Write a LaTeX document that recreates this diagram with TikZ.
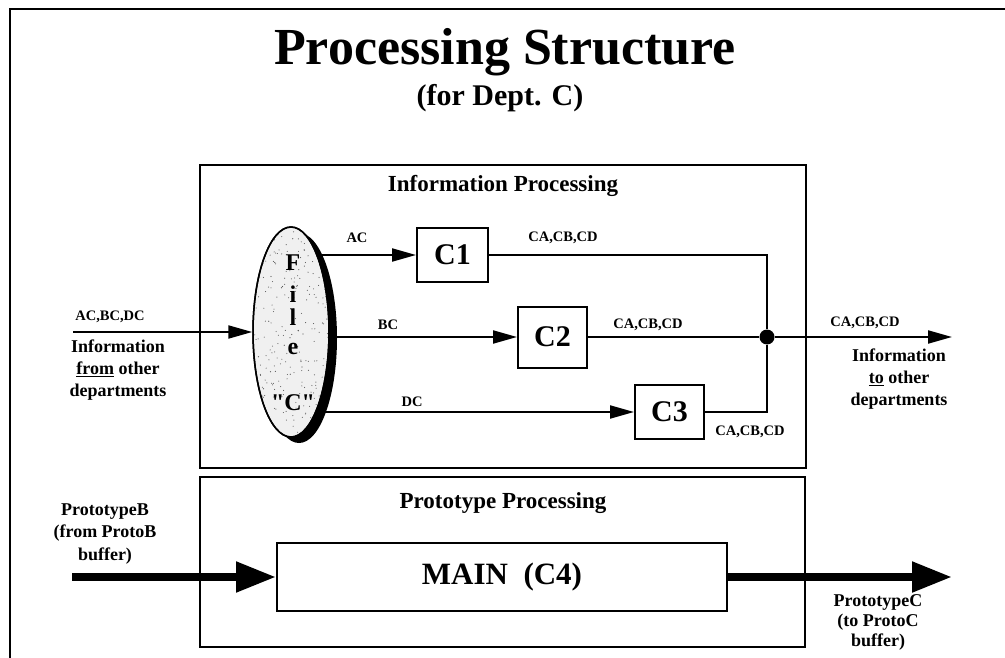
\documentclass[tikz,border=0pt]{standalone}
\usepackage{fontspec}
\setmainfont{Liberation Serif}
\newfontfamily\straightserif[Ligatures=TeXOff]{Liberation Serif}
\usetikzlibrary{arrows.meta,shapes.geometric,calc}

\newcommand{\bfsize}[2]{\fontsize{#1}{#2}\selectfont\bfseries}

\begin{document}
\begin{tikzpicture}[x=1pt,y=-1pt,
  txt/.style={inner sep=0pt, align=center},
  small/.style={txt, font=\bfsize{14.5}{17}},
  side/.style={txt, font=\bfsize{18}{22}},
  panel/.style={draw, line width=1.3pt, inner sep=0pt},
  proc/.style={draw, line width=2pt, inner sep=0pt, font=\bfsize{30}{34}},
  flow/.style={line width=2pt, -{Triangle[length=24pt,width=13pt]}},
  plain/.style={line width=2pt},
  heavy/.style={line width=8pt, -{Triangle[length=40pt,width=29pt]}},
  letter/.style={txt, font=\bfsize{24}{28}}
]
\useasboundingbox (0,0) rectangle (1005,658);

% page frame
\coordinate (fbl) at (10,660);
\coordinate (ftl) at (10,9);
\coordinate (ftr) at (1005,9);
\draw[line width=2pt] (fbl) -- (ftl) -- (ftr);

% headings
\node[txt, anchor=base, font=\bfsize{52}{56}] (title) at (505,65) {Processing Structure};
\node[txt, anchor=base, font=\bfsize{30}{34}] (subtitle) at (500,106) {(for Dept. C)};

% panels
\node[panel, minimum width=606pt, minimum height=303pt] (info) at (503,316.5) {};
\node[txt, font=\bfsize{23}{26}] (infolbl) at (503,186) {Information Processing};
\node[panel, minimum width=605pt, minimum height=170pt] (proto) at (502.5,562) {};
\node[txt, font=\bfsize{23}{26}] (protolbl) at (503,503) {Prototype Processing};

% processes
\node[proc, minimum width=71pt, minimum height=54pt] (C1) at (452.5,255) {C1};
\node[proc, minimum width=69pt, minimum height=61pt] (C2) at (552.5,337) {C2};
\node[proc, minimum width=69pt, minimum height=54pt] (C3) at (669.5,412) {C3};
\node[proc, minimum width=450pt, minimum height=68pt, font=\bfsize{31}{34}] (main) at (502,577) {MAIN\ \ (C4)};

% file centre, junction and free ends
\coordinate (fc) at (291,332);
\node[circle, fill, inner sep=0pt, minimum size=15pt] (join) at (767,337) {};
\coordinate (inL) at (73,332);
\coordinate (outR) at (952,337);
\coordinate (pinL) at (72,577);
\coordinate (poutR) at (952,577);

% file to processes
\draw[flow] (fc |- C1.west) -- (C1.west);
\draw[flow] (fc |- C2.west) -- (C2.west);
\draw[flow] (fc |- C3.west) -- (C3.west);
\node[small] (lac) at (357,238) {AC};
\node[small] (lbc) at (388,325) {BC};
\node[small] (ldc) at (412,402) {DC};

% processes to junction
\draw[plain] (C1.east) -- (join |- C1.east) -- (join);
\draw[plain] (C2.east) -- (join);
\draw[plain] (C3.east) -- (join |- C3.east) -- (join);
\node[small] (lo1) at (563,238) {CA,CB,CD};
\node[small] (lo2) at (648,325) {CA,CB,CD};
\node[small] (lo3) at (750,432) {CA,CB,CD};

% file "C"
\fill (fc) ++(8,6) ellipse [x radius=38pt, y radius=105pt];
\node[ellipse, draw, line width=1.5pt, fill=gray!12, minimum width=76pt, minimum height=210pt, inner sep=0pt] (file) at (fc) {};
\begin{scope}
  \clip (fc) ellipse [x radius=37pt, y radius=104pt];
  \pgfmathsetseed{11}
  \foreach \i in {1,...,260}{
    \fill[gray!70!black] ($(fc)+(rand*38,rand*105)$) circle (0.55pt);
  }
\end{scope}
\draw[line width=1.5pt] (fc) ellipse [x radius=38pt, y radius=105pt];
\node[letter] (lF) at (293,263) {F};
\node[letter] (li) at (293,294) {i};
\node[letter] (ll) at (293,317) {l};
\node[letter] (le) at (293,349) {e};
\node[letter] (lC) at (293,403) {\straightserif\bfseries "C"};

% information in and out
\draw[flow] (inL) -- (file.west);
\node[small] (lin) at (110,317) {AC,BC,DC};
\node[side] (infrom) at (118,370) {Information\\\underline{from} other\\departments};
\draw[flow] (join) -- (outR);
\node[small] (lout) at (865,323) {CA,CB,CD};
\node[side] (into) at (899,379) {Information\\\underline{to} other\\departments};

% prototype flow
\draw[heavy] (pinL) -- (main.west);
\draw[heavy] (main.east) -- (poutR);
\node[txt, font=\bfsize{18}{22.5}] (pb) at (105,534) {PrototypeB\\(from ProtoB\\buffer)};
\node[txt, font=\bfsize{18}{20}] (pc) at (878,622) {PrototypeC\\(to ProtoC\\buffer)};
\end{tikzpicture}
\end{document}
